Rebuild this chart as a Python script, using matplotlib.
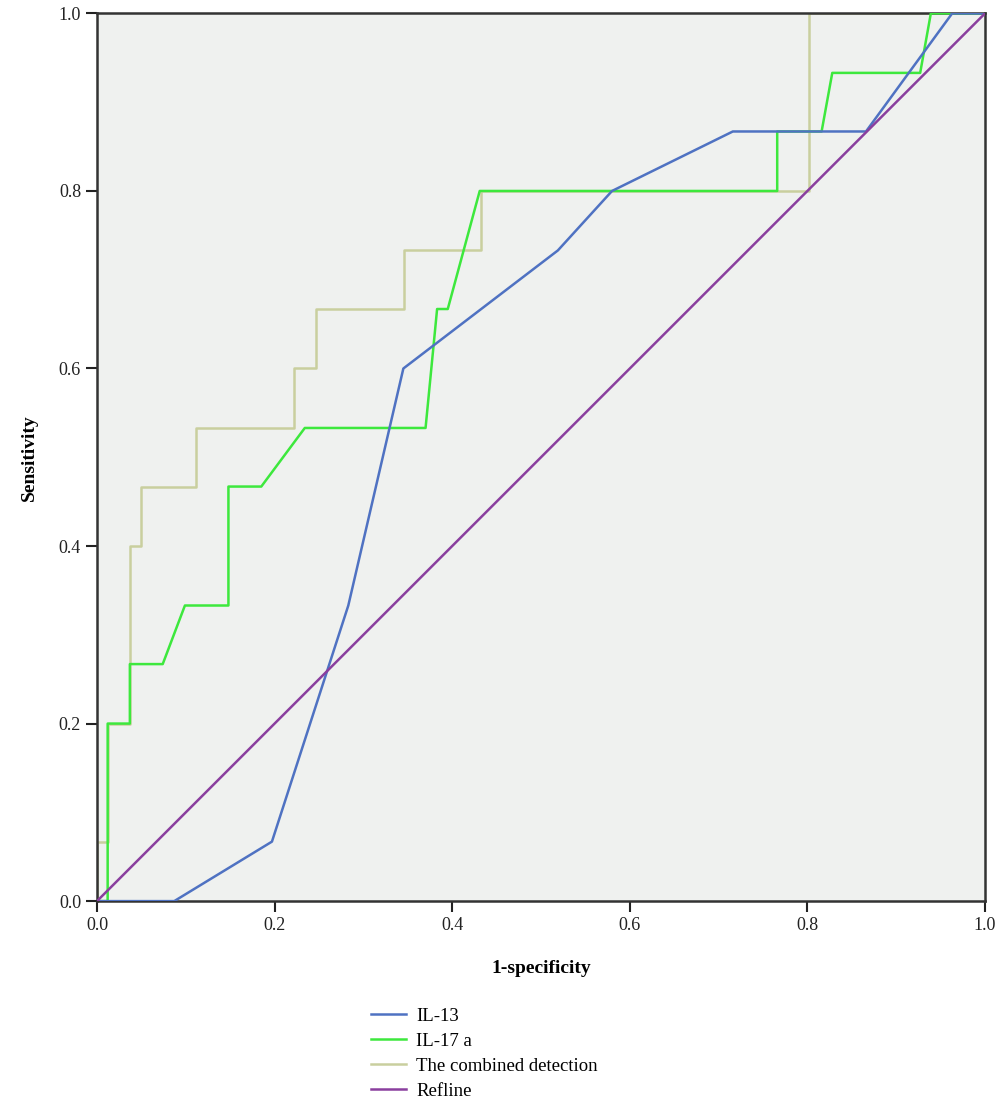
import matplotlib.pyplot as plt

# ROC curve points (1-specificity, sensitivity)
il13_x = [0.0, 0.087, 0.197, 0.283, 0.345, 0.519, 0.580, 0.716, 0.866, 0.963, 1.0]
il13_y = [0.0, 0.0, 0.067, 0.333, 0.600, 0.733, 0.800, 0.867, 0.867, 1.0, 1.0]

il17_x = [0.0, 0.012, 0.012, 0.037, 0.037, 0.074, 0.099, 0.148, 0.148, 0.185, 0.234,
          0.370, 0.383, 0.395, 0.431, 0.766, 0.766, 0.816, 0.828, 0.927, 0.939, 1.0]
il17_y = [0.0, 0.0, 0.200, 0.200, 0.267, 0.267, 0.333, 0.333, 0.467, 0.467, 0.533,
          0.533, 0.667, 0.667, 0.800, 0.800, 0.867, 0.867, 0.933, 0.933, 1.0, 1.0]

comb_x = [0.0, 0.0, 0.012, 0.012, 0.037, 0.037, 0.049, 0.049, 0.111, 0.111, 0.222,
          0.222, 0.247, 0.247, 0.346, 0.346, 0.432, 0.432, 0.802, 0.802, 1.0]
comb_y = [0.0, 0.067, 0.067, 0.200, 0.200, 0.400, 0.400, 0.467, 0.467, 0.533, 0.533,
          0.600, 0.600, 0.667, 0.667, 0.733, 0.733, 0.800, 0.800, 1.0, 1.0]

ref_x = [0.0, 1.0]
ref_y = [0.0, 1.0]

ticks = [0.0, 0.2, 0.4, 0.6, 0.8, 1.0]

plt.rcParams['font.family'] = ['Liberation Serif', 'DejaVu Serif']

fig = plt.figure(figsize=(10, 11.18), dpi=100)
ax = fig.add_axes([0.097, 0.194, 0.888, 0.794])
ax.set_facecolor('#eff1ef')

ax.plot(il13_x, il13_y, color='#4f72c2', lw=1.8, label='IL-13', zorder=4)
ax.plot(il17_x, il17_y, color='#3de83d', lw=1.8, label='IL-17 a', zorder=3)
ax.plot(comb_x, comb_y, color='#c9cf9e', lw=1.8, label='The combined detection', zorder=2)
ax.plot(ref_x, ref_y, color='#8a3f9e', lw=1.8, label='Refline', zorder=5)

ax.set_xlim(0, 1)
ax.set_ylim(0, 1)
ax.set_xticks(ticks)
ax.set_yticks(ticks)
ax.set_xticklabels([f'{t:.1f}' for t in ticks])
ax.set_yticklabels([f'{t:.1f}' for t in ticks])
ax.tick_params(direction='out', length=8, width=1.5, labelsize=13, colors='#222222')
for s in ax.spines.values():
    s.set_color('#333333')
    s.set_linewidth(1.8)

ax.set_xlabel('1-specificity', fontsize=14, fontweight='bold', labelpad=19)
ax.set_ylabel('Sensitivity', fontsize=14, fontweight='bold', labelpad=15)

fig.legend(loc='upper left', bbox_to_anchor=(0.363, 0.1055), frameon=False,
           fontsize=13.5, handlelength=1.9, handletextpad=0.55, labelspacing=0.42,
           borderaxespad=0)

fig.savefig('out.png', dpi=100)
